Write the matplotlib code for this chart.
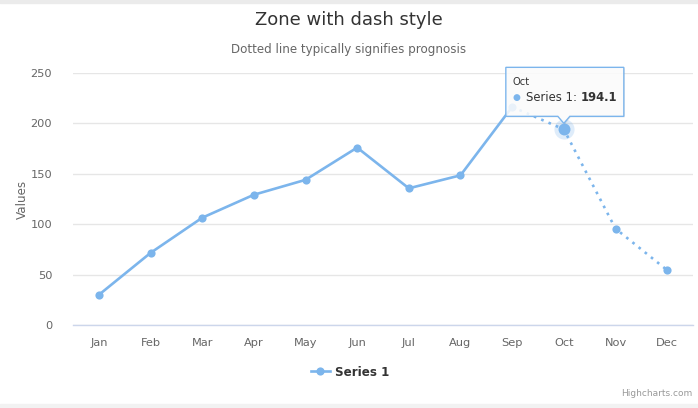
import matplotlib
matplotlib.use("Agg")
import matplotlib.pyplot as plt
from matplotlib.patches import Rectangle, Polygon
from matplotlib.transforms import IdentityTransform
from matplotlib.lines import Line2D

months = ['Jan', 'Feb', 'Mar', 'Apr', 'May', 'Jun', 'Jul', 'Aug', 'Sep', 'Oct', 'Nov', 'Dec']
values = [29.9, 71.5, 106.4, 129.2, 144.0, 176.0, 135.6, 148.5, 216.4, 194.1, 95.6, 54.4]
zone_end = 8  # solid up to Sep, dotted after
hover_idx = 9
yticks = [0, 50, 100, 150, 200, 250]

BLUE = '#7cb5ec'
plt.rcParams['font.family'] = ['DejaVu Sans']

fig = plt.figure(figsize=(6.98, 4.08), dpi=100)
ax = fig.add_axes([73/698, 1-325/408, 620/698, 252/408])

# grey strips top and bottom
fig.patches.append(Rectangle((0, 1-3/408), 1, 3/408, transform=fig.transFigure, color='#ebebeb', zorder=0))
fig.patches.append(Rectangle((0, 0), 1, 4/408, transform=fig.transFigure, color='#f2f2f2', zorder=0))

x = list(range(len(months)))
ax.plot(x[:zone_end+1], values[:zone_end+1], color=BLUE, lw=1.9, solid_capstyle='round',
        solid_joinstyle='round', zorder=3)
ax.plot(x[zone_end:], values[zone_end:], color=BLUE, lw=1.9, dashes=(1, 2), dash_capstyle='butt', zorder=3)
ax.plot(x, values, 'o', color=BLUE, ms=5.9, mew=0, zorder=4)

# hover halo + enlarged marker
ax.plot([x[hover_idx]], [values[hover_idx]], 'o', color=BLUE, ms=14.5, mew=0, alpha=0.25, zorder=5)
ax.plot([x[hover_idx]], [values[hover_idx]], 'o', color=BLUE, ms=8.6, mew=0, zorder=6)

ax.set_xlim(-0.5, 11.5)
ax.set_ylim(0, 250)
ax.set_xticks(x)
ax.set_xticklabels(months)
ax.set_yticks(yticks)
ax.tick_params(axis='both', length=0, colors='#666666', labelsize=8.2)
ax.tick_params(axis='x', pad=9)
ax.tick_params(axis='y', pad=15)
ax.grid(axis='y', color='#e6e6e6', lw=1)
ax.set_axisbelow(True)
for s in ['top', 'right', 'left']:
    ax.spines[s].set_visible(False)
ax.spines['bottom'].set_color('#ccd6eb')
ax.spines['bottom'].set_linewidth(1)
ax.set_ylabel('Values', color='#666666', fontsize=8.6)
ax.yaxis.set_label_coords((29-73)/620, 0.5)

fig.text(0.5, 1-20/408, 'Zone with dash style', ha='center', va='center', fontsize=13, color='#333333')
fig.text(0.5, 1-50/408, 'Dotted line typically signifies prognosis', ha='center', va='center', fontsize=8.6, color='#666666')

# legend
h = Line2D([], [], color=BLUE, lw=1.9, marker='o', ms=5.9, mew=0)
leg = fig.legend([h], ['Series 1'], loc='center', bbox_to_anchor=(350/698, 1-372/408), frameon=False,
                 prop={'weight': 'bold', 'size': 8.6}, handlelength=1.6, handletextpad=0.4)
for t in leg.get_texts():
    t.set_color('#333333')

fig.text(692/698, 1-394/408, 'Highcharts.com', ha='right', va='center', fontsize=6.5, color='#999999')

# tooltip anchored to hovered point
fig.canvas.draw()
px, py = ax.transData.transform((x[hover_idx], values[hover_idx]))
L, R, T, B = px-58, px+60, py+62, py+13
tip = py+6
poly = [(L, B), (px-6, B), (px, tip), (px+6, B), (R, B), (R, T), (L, T)]
shadow = Polygon([(a+1, b-1) for a, b in poly], closed=True, transform=IdentityTransform(),
                 fc='#000000', alpha=0.08, ec='none', zorder=7)
box = Polygon(poly, closed=True, transform=IdentityTransform(), fc='white', alpha=0.85,
              ec='none', zorder=8)
border = Polygon(poly, closed=True, transform=IdentityTransform(), fill=False, ec=BLUE, lw=1, zorder=9)
fig.patches.extend([shadow, box, border])
fig.text(L+7, T-15, months[hover_idx], transform=IdentityTransform(), fontsize=7.2, color='#333333', va='center', zorder=10)
fig.text(L+11, T-30, '\u25cf', transform=IdentityTransform(), fontsize=6.5, color=BLUE, ha='center', va='center', zorder=10)
t1 = fig.text(L+20, T-30, 'Series 1: ', transform=IdentityTransform(), fontsize=8.4, color='#333333', va='center', zorder=10)
fig.canvas.draw()
bb = t1.get_window_extent()
fig.text(bb.x1, T-30, '%.1f' % values[hover_idx], transform=IdentityTransform(), fontsize=8.4,
         color='#333333', weight='bold', va='center', zorder=10)

fig.savefig('out.png', dpi=100)
